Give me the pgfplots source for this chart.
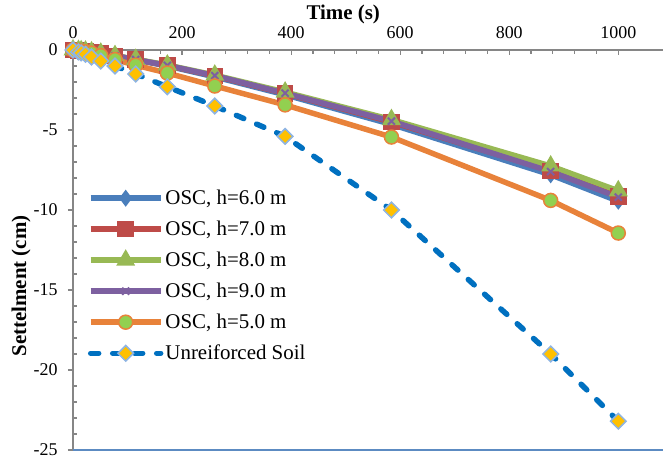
\documentclass[border=0pt]{standalone}
\usepackage{fontspec}
\setmainfont{Liberation Serif}
\usepackage{pgfplots}
\pgfplotsset{compat=1.18}

\definecolor{axgray}{HTML}{868686}
\definecolor{cblue}{HTML}{4A7EBB}
\definecolor{cred}{HTML}{BE4B48}
\definecolor{cgreen}{HTML}{98B954}
\definecolor{cpurple}{HTML}{7D60A0}
\definecolor{corange}{HTML}{E8823A}
\definecolor{cfill}{HTML}{92D050}
\definecolor{cdash}{HTML}{0070C0}
\definecolor{cgold}{HTML}{FFC000}
\definecolor{cdiam}{HTML}{8EB4E3}

\begin{document}
\begin{tikzpicture}
\begin{axis}[
  width=590bp, height=400bp, scale only axis,
  xmin=0, xmax=1082, ymin=-25, ymax=0,
  axis x line*=top, axis y line*=left,
  axis line style={axgray, line width=1.5bp, -},
  xtick={0,200,...,1000}, ytick={-25,-20,...,0},
  minor x tick num=4, minor y tick num=4,
  tick style={axgray, line width=1.2bp},
  major tick length=5bp, minor tick length=4bp,
  major y tick style={xshift=-5bp},
  /pgf/number format/assume math mode=true,
  /pgf/number format/1000 sep={},
  ticklabel style={font=\fontsize{18}{20}\selectfont},
  xticklabel style={yshift=8bp},
  yticklabel style={xshift=-12bp},
  xlabel={\textbf{Time (s)}},
  xlabel style={at={(axis description cs:0.458,1.09)}, anchor=center,
    font=\fontsize{21}{23}\selectfont},
  ylabel={\textbf{Settelment (cm)}},
  ylabel style={at={(axis description cs:-0.088,0.41)}, anchor=center,
    font=\fontsize{21}{23}\selectfont},
  clip=false,
  legend style={draw=none, fill=none, at={(axis description cs:0.025,0.655)},
    anchor=north west, font=\fontsize{21}{23}\selectfont, row sep=11bp,
    inner sep=0pt},
  legend cell align=left,
  legend image code/.code={\draw[#1, mark repeat=2, mark phase=2]
    plot coordinates {(0bp,0bp) (35bp,0bp) (70bp,0bp)};},
]
\coordinate (O) at (rel axis cs:0,0);
\draw[color=cblue!90!white, line width=1.5bp] (rel axis cs:0,0) -- (rel axis cs:1,0);

% OSC h=6.0
\addplot[cblue, line width=5.5bp, mark=diamond*, mark size=4bp,
  mark options={fill=cblue, draw=cblue}] coordinates {
  (0,0) (10,-0.03) (15,-0.05) (23,-0.08) (34,-0.13) (51,-0.22) (77,-0.38)
  (115,-0.62) (173,-1.0) (260,-1.68) (389,-2.8) (584,-4.65) (876,-7.8) (1000,-9.45)};
\addlegendentry{OSC, h=6.0 m}
% OSC h=7.0
\addplot[cred, line width=5.5bp, mark=square*, mark size=5.5bp,
  mark options={fill=cred, draw=cred}] coordinates {
  (0,0) (10,-0.03) (15,-0.05) (23,-0.08) (34,-0.12) (51,-0.21) (77,-0.36)
  (115,-0.6) (173,-0.97) (260,-1.62) (389,-2.72) (584,-4.5) (876,-7.55) (1000,-9.15)};
\addlegendentry{OSC, h=7.0 m}
% OSC h=8.0
\addplot[cgreen, line width=5.5bp, mark=triangle*, mark size=5.5bp,
  mark options={fill=cgreen, draw=cgreen}] coordinates {
  (0,0) (10,-0.03) (15,-0.05) (23,-0.07) (34,-0.12) (51,-0.2) (77,-0.35)
  (115,-0.58) (173,-0.94) (260,-1.57) (389,-2.63) (584,-4.35) (876,-7.25) (1000,-8.8)};
\addlegendentry{OSC, h=8.0 m}
% OSC h=9.0
\addplot[cpurple, line width=5.5bp, mark=x, mark size=5bp,
  mark options={draw=cpurple, line width=2bp}] coordinates {
  (0,0) (10,-0.03) (15,-0.05) (23,-0.08) (34,-0.12) (51,-0.21) (77,-0.36)
  (115,-0.6) (173,-0.96) (260,-1.6) (389,-2.7) (584,-4.45) (876,-7.6) (1000,-9.2)};
\addlegendentry{OSC, h=9.0 m}
% OSC h=5.0
\addplot[corange, line width=5.5bp, mark=*, mark size=7bp,
  mark options={fill=cfill, draw=corange, line width=1.5bp}] coordinates {
  (0,0) (10,-0.05) (15,-0.08) (23,-0.12) (34,-0.2) (51,-0.35) (77,-0.6)
  (115,-0.95) (173,-1.44) (260,-2.25) (389,-3.43) (584,-5.44) (876,-9.4) (1000,-11.44)};
\addlegendentry{OSC, h=5.0 m}
% Unreinforced
\addplot[cdash, line width=5.5bp, line cap=round, dash pattern=on 8bp off 14bp,
  mark=square*, mark size=5.5bp,
  mark options={solid, rotate=45, fill=cgold, draw=cdiam, line width=1.5bp}] coordinates {
  (0,0) (10,-0.12) (15,-0.18) (23,-0.27) (34,-0.44) (51,-0.69) (77,-1.0)
  (115,-1.5) (173,-2.3) (260,-3.5) (389,-5.4) (584,-10.0) (876,-19.0) (1000,-23.2)};
\addlegendentry{Unreiforced Soil}
\end{axis}
\pgfresetboundingbox
\path (O) ++(-73bp,-10bp) rectangle ++(663bp,460bp);
\end{tikzpicture}
\end{document}
